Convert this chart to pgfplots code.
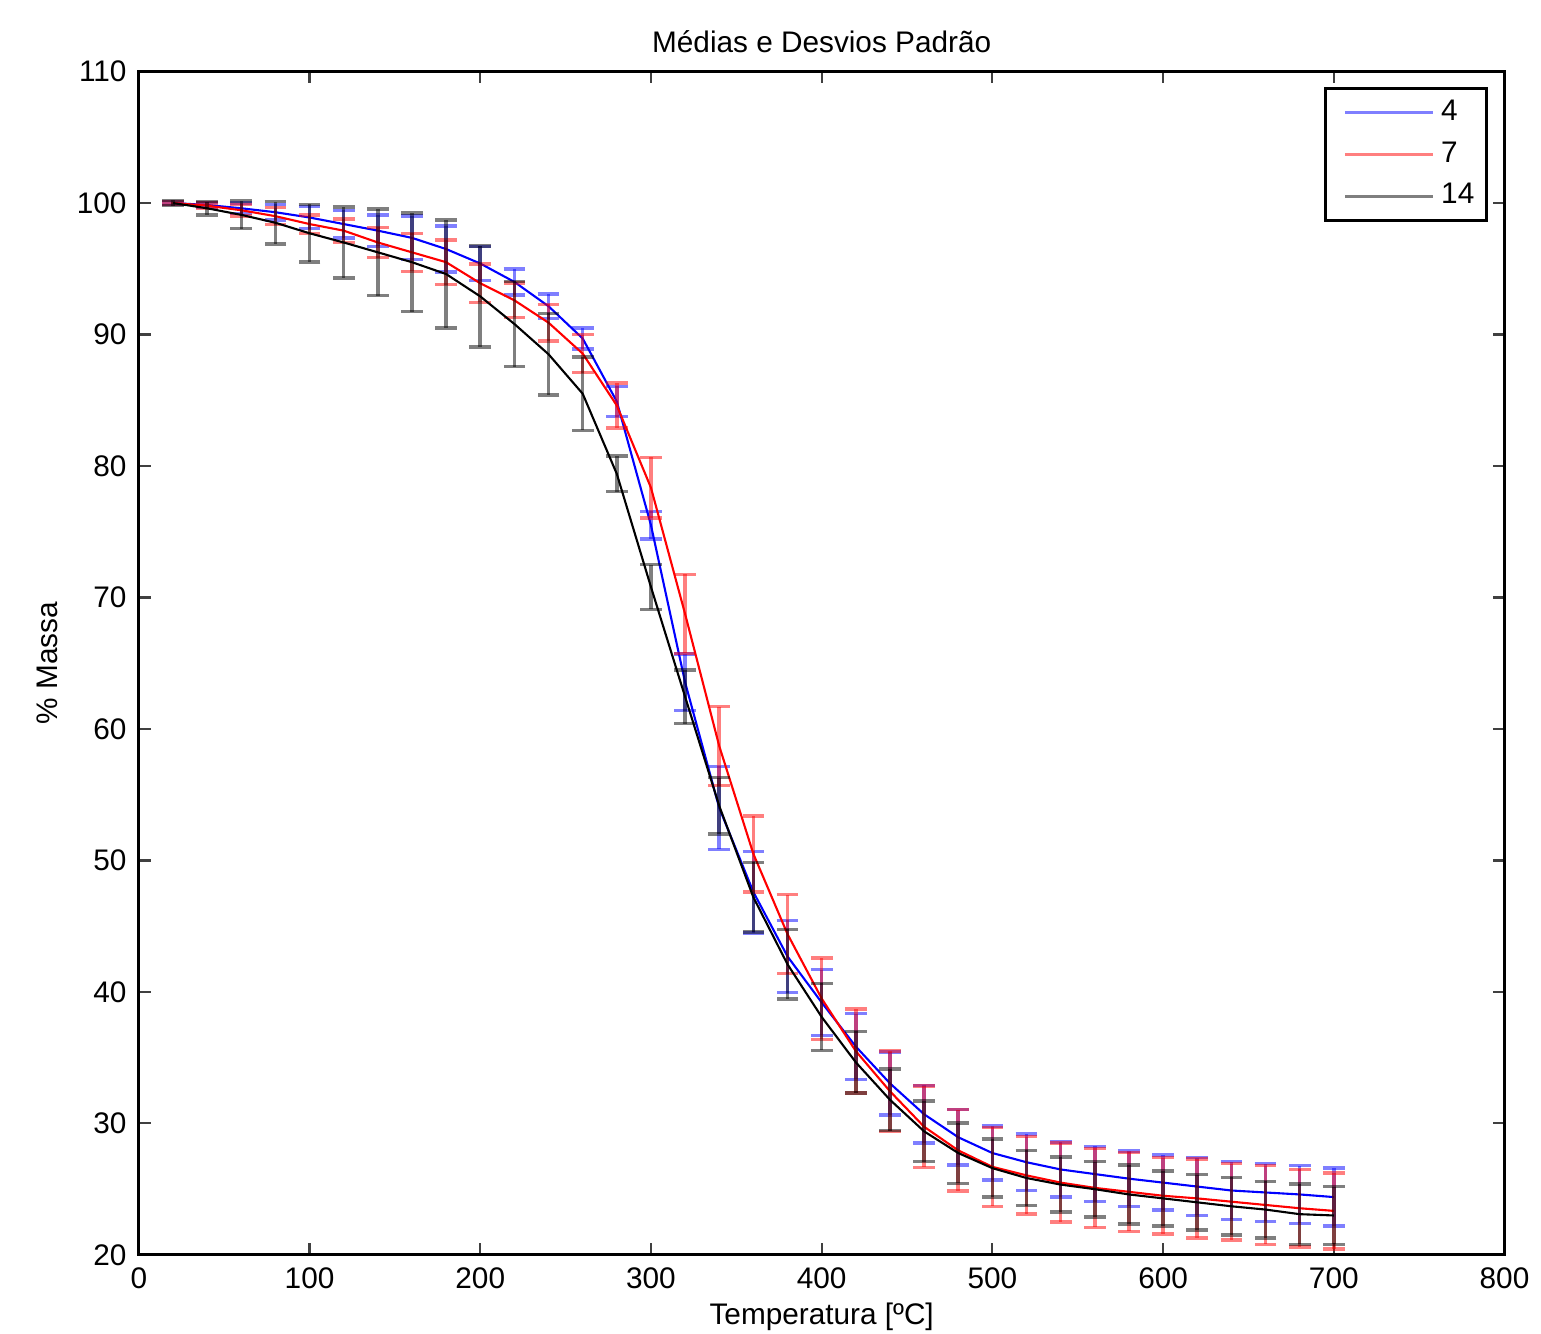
\documentclass[border=0pt]{standalone}
\usepackage{fontspec}
\setmainfont{Liberation Sans}
\usepackage{pgfplots}
\usepackage{pgfplotstable}
\pgfplotsset{compat=1.18}

% T, mean, std
\pgfplotstableread{
T m s
20 100.0 0.1
40 99.85 0.2
60 99.6 0.4
80 99.3 0.6
100 98.9 0.85
120 98.4 1.05
140 97.9 1.2
160 97.35 1.65
180 96.5 1.75
200 95.4 1.3
220 94.0 1.0
240 92.15 0.95
260 89.7 0.8
280 84.9 1.15
300 75.5 1.05
320 63.55 2.15
340 54.0 3.15
360 47.6 3.1
380 42.7 2.75
400 39.2 2.5
420 35.85 2.5
440 33.05 2.4
460 30.7 2.2
480 28.95 2.1
500 27.75 2.05
520 27.05 2.15
540 26.5 2.1
560 26.15 2.1
580 25.8 2.1
600 25.5 2.1
620 25.2 2.2
640 24.9 2.2
660 24.75 2.2
680 24.6 2.2
700 24.4 2.2
}\quatro

\pgfplotstableread{
T m s
20 100.0 0.1
40 99.8 0.2
60 99.45 0.45
80 99.0 0.65
100 98.4 0.7
120 97.9 0.9
140 97.0 1.15
160 96.25 1.45
180 95.5 1.7
200 93.9 1.45
220 92.6 1.3
240 90.9 1.4
260 88.55 1.45
280 84.6 1.7
300 78.35 2.3
320 68.75 3.0
340 58.7 3.0
360 50.5 2.9
380 44.4 3.0
400 39.5 3.1
420 35.5 3.2
440 32.45 3.05
460 29.75 3.1
480 27.95 3.1
500 26.7 3.0
520 26.05 2.95
540 25.5 3.0
560 25.1 3.0
580 24.8 3.0
600 24.5 2.9
620 24.3 3.0
640 24.05 2.9
660 23.8 3.0
680 23.55 2.95
700 23.35 2.9
}\sete

\pgfplotstableread{
T m s
20 100.0 0.2
40 99.6 0.5
60 99.1 1.05
80 98.5 1.6
100 97.7 2.2
120 97.0 2.7
140 96.25 3.3
160 95.5 3.76
180 94.6 4.1
200 92.9 3.85
220 90.8 3.25
240 88.5 3.1
260 85.5 2.8
280 79.4 1.35
300 70.8 1.7
320 62.45 2.05
340 54.15 2.15
360 47.2 2.65
380 42.1 2.65
400 38.1 2.55
420 34.65 2.35
440 31.8 2.35
460 29.4 2.3
480 27.75 2.3
500 26.6 2.2
520 25.85 2.1
540 25.35 2.1
560 25.0 2.1
580 24.6 2.25
600 24.3 2.1
620 24.0 2.1
640 23.7 2.2
660 23.45 2.15
680 23.1 2.3
700 23.0 2.2
}\catorze

\begin{document}
\begin{tikzpicture}
\begin{axis}[
    width=13.71cm, height=11.88cm,
    scale only axis,
    xmin=0, xmax=800, ymin=20, ymax=110,
    xtick={0,100,...,800},
    ytick={20,30,...,110},
    tick align=inside,
    major tick length=0.12cm,
    axis line style={line width=0.85pt},
    tick style={line width=0.6pt, black!75},
    font=\fontsize{8.5}{10}\selectfont,
    /pgf/number format/assume math mode=true,
    ticklabel style={font=\fontsize{8.5}{10}\selectfont},
    every axis title shift=0pt,
    title={Médias e Desvios Padrão},
    title style={at={(axis description cs:0.5,1.025)}, anchor=center, inner ysep=0.31cm},
    xlabel={Temperatura [ºC]},
    xlabel style={at={(axis description cs:0.5,-0.052)}, anchor=center, inner ysep=1pt},
    ylabel={\% Massa},
    ylabel style={at={(axis description cs:-0.067,0.5)}, anchor=center, rotate=0, inner ysep=0.37cm},
    legend style={at={(axis description cs:0.988,0.987)}, anchor=north east,
        draw=black, line width=0.9pt, font=\fontsize{8.5}{10}\selectfont,
        inner xsep=1.5pt, inner ysep=1.2pt, row sep=0.6pt},
    legend cell align=left,
    legend image code/.code={\path (0cm,0cm);
        \draw[#1, opacity=0.5, line width=0.8pt] (0.13cm,0cm) -- (1.01cm,0cm);},
    error bars/y dir=both,
    error bars/y explicit,
    error bars/error bar style={line width=1pt, opacity=0.5},
    error bars/error mark options={line width=1pt, mark size=3.1pt, opacity=0.5, rotate=90},
]
\addplot[blue, line width=0.6pt, no markers] table[x=T, y=m, y error=s] {\quatro};
\addplot[red, line width=0.6pt, no markers] table[x=T, y=m, y error=s] {\sete};
\addplot[black, line width=0.6pt, no markers] table[x=T, y=m, y error=s] {\catorze};
\legend{4,7,14}
\end{axis}
\end{tikzpicture}
\end{document}
